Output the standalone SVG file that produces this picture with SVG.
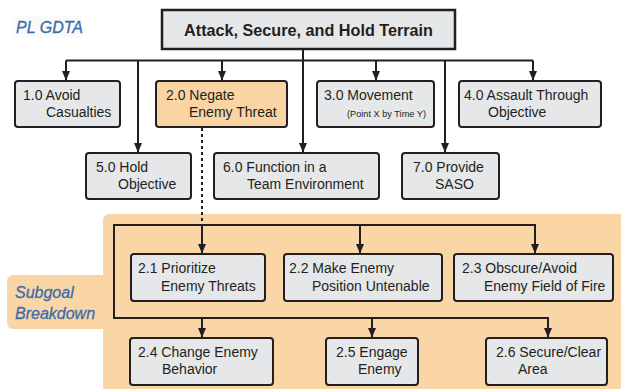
<svg xmlns="http://www.w3.org/2000/svg" width="621" height="389" viewBox="0 0 621 389">
<style>
text{font-family:"Liberation Sans",Arial,sans-serif;font-size:14px;fill:#231f20}
.box rect{fill:#e6e7e8;stroke:#231f20;stroke-width:2}
.box.hl rect{fill:#fad4a2}
.lbl{font-style:italic;fill:#3a6cae;font-size:16px;stroke:#3a6cae;stroke-width:0.3}
.conn path{fill:none;stroke:#231f20;stroke-width:2}
.small{font-size:9.2px}
</style>
<defs>
<marker id="ah" markerUnits="userSpaceOnUse" markerWidth="10" markerHeight="11" refX="9" refY="5" orient="auto">
<path d="M0,1 L9.5,5 L0,9 z" fill="#231f20"/>
</marker>
</defs>
<rect width="621" height="389" fill="#fff"/>
<rect x="12" y="16" width="70" height="22" fill="#fafafa"/>
<text class="lbl" x="16" y="33">PL GDTA</text>
<g id="subgoal-panel">
<rect x="103" y="214" width="525" height="190" rx="6" fill="#fad6a7"/>
<rect x="7" y="275" width="110" height="54" rx="6" fill="#fad6a7"/>
<text class="lbl" x="15" y="298">Subgoal</text>
<text class="lbl" x="15" y="319">Breakdown</text>
</g>
<g class="conn">
<path d="M303,49 V152"/>
<path d="M66,60.5 H533"/>
<path d="M66,60.5 V80" marker-end="url(#ah)"/>
<path d="M138,60.5 V152" marker-end="url(#ah)"/>
<path d="M222,60.5 V80" marker-end="url(#ah)"/>
<path d="M303,140 V152" marker-end="url(#ah)"/>
<path d="M376,60.5 V80" marker-end="url(#ah)"/>
<path d="M445,60.5 V152" marker-end="url(#ah)"/>
<path d="M533,60.5 V80" marker-end="url(#ah)"/>
<path d="M202,128 V225" stroke-dasharray="3,3"/>
<path d="M535,254 V225 H114 V318 H548 V337" marker-end="url(#ah)"/>
<path d="M202,225 V253" marker-end="url(#ah)"/>
<path d="M360,225 V253" marker-end="url(#ah)"/>
<path d="M535,240 V253" marker-end="url(#ah)"/>
<path d="M202,318 V337" marker-end="url(#ah)"/>
<path d="M372,318 V337" marker-end="url(#ah)"/>
</g>
<g id="top" class="box">
<rect x="162" y="10" width="293" height="39" style="stroke-width:2.5"/>
<text x="308.5" y="35.5" text-anchor="middle" style="font-weight:bold;font-size:16.2px">Attack, Secure, and Hold Terrain</text>
</g>
<g id="n1" class="box">
<rect x="15" y="81" width="105" height="46" rx="3"/>
<text x="23" y="100">1.0 Avoid</text>
<text x="46" y="117">Casualties</text>
</g>
<g id="n2" class="box hl">
<rect x="156" y="81" width="131" height="46" rx="3"/>
<text x="166" y="100">2.0 Negate</text>
<text x="189" y="117">Enemy Threat</text>
</g>
<g id="n3" class="box">
<rect x="317" y="81" width="117" height="46" rx="3"/>
<text x="324" y="100">3.0 Movement</text>
<text class="small" x="347" y="117">(Point X by Time Y)</text>
</g>
<g id="n4" class="box">
<rect x="459" y="81" width="142" height="46" rx="3"/>
<text x="464" y="100">4.0 Assault Through</text>
<text x="488" y="117">Objective</text>
</g>
<g id="n5" class="box">
<rect x="86" y="153" width="105" height="46" rx="3"/>
<text x="96" y="172">5.0 Hold</text>
<text x="118" y="189">Objective</text>
</g>
<g id="n6" class="box">
<rect x="214" y="153" width="165" height="46" rx="3"/>
<text x="223" y="172">6.0 Function in a</text>
<text x="247" y="189">Team Environment</text>
</g>
<g id="n7" class="box">
<rect x="402" y="153" width="97" height="46" rx="3"/>
<text x="413" y="172">7.0 Provide</text>
<text x="435" y="189">SASO</text>
</g>
<g id="n21" class="box">
<rect x="131" y="254" width="134" height="47" rx="3"/>
<text x="138" y="273">2.1 Prioritize</text>
<text x="161" y="291">Enemy Threats</text>
</g>
<g id="n22" class="box">
<rect x="284" y="254" width="158" height="47" rx="3"/>
<text x="289" y="273">2.2 Make Enemy</text>
<text x="312" y="291">Position Untenable</text>
</g>
<g id="n23" class="box">
<rect x="454" y="254" width="159" height="47" rx="3"/>
<text x="462" y="273">2.3 Obscure/Avoid</text>
<text x="484" y="291">Enemy Field of Fire</text>
</g>
<g id="n24" class="box">
<rect x="130" y="338" width="143" height="47" rx="3"/>
<text x="138" y="357">2.4 Change Enemy</text>
<text x="162" y="374">Behavior</text>
</g>
<g id="n25" class="box">
<rect x="326" y="338" width="92" height="47" rx="3"/>
<text x="336" y="357">2.5 Engage</text>
<text x="358" y="374">Enemy</text>
</g>
<g id="n26" class="box">
<rect x="486" y="338" width="121" height="47" rx="3"/>
<text x="496" y="357">2.6 Secure/Clear</text>
<text x="518" y="374">Area</text>
</g>
</svg>
